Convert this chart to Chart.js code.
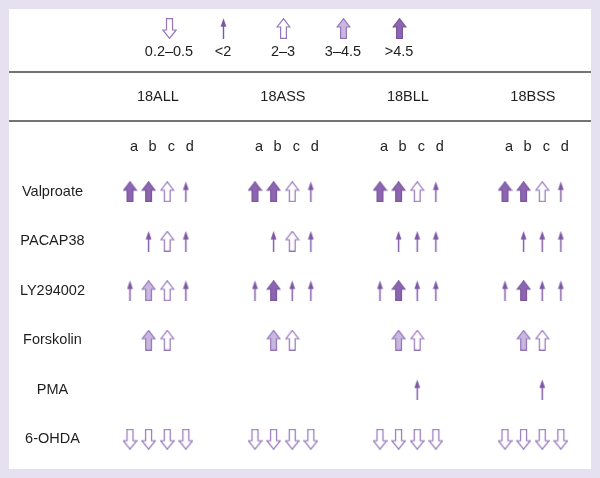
<!DOCTYPE html>
<html>
<head>
<meta charset="utf-8">
<script src="https://cdn.jsdelivr.net/npm/chart.js@4.4.1/dist/chart.umd.min.js"></script>
<style>
  html, body { margin: 0; padding: 0; background: #e6e1f1; }
  canvas { display: block; }
</style>
</head>
<body>
<canvas id="myChart" width="600" height="478"></canvas>
<script>
const groups = ['18ALL', '18ASS', '18BLL', '18BSS'];
const subs = ['a', 'b', 'c', 'd'];
const treatments = ['Valproate', 'PACAP38', 'LY294002', 'Forskolin', 'PMA', '6-OHDA'];
const levels = ['0.2–0.5', '<2', '2–3', '3–4.5', '>4.5'];

// level index (into levels) for a b c d of each group, null = no arrow
const valproate = [4, 4, 2, 1,  4, 4, 2, 1,  4, 4, 2, 1,  4, 4, 2, 1];
const pacap38   = [null, 1, 2, 1,  null, 1, 2, 1,  null, 1, 1, 1,  null, 1, 1, 1];
const ly294002  = [1, 3, 2, 1,  1, 4, 1, 1,  1, 4, 1, 1,  1, 4, 1, 1];
const forskolin = [null, 3, 2, null,  null, 3, 2, null,  null, 3, 2, null,  null, 3, 2, null];
const pma       = [null, null, null, null,  null, null, null, null,  null, null, 1, null,  null, null, 1, null];
const ohda      = [0, 0, 0, 0,  0, 0, 0, 0,  0, 0, 0, 0,  0, 0, 0, 0];
const rows = [valproate, pacap38, ly294002, forskolin, pma, ohda];

const subStep = 0.149;
const legendX = [169, 223, 283, 343, 399];
const font = '14.5px "Liberation Sans", Arial, sans-serif';
const purple = '#7d57a3';

// arrow glyphs used as point styles
function arrowCanvas(kind) {
  const c = document.createElement('canvas');
  const g = c.getContext('2d');
  if (kind === 1) {
    c.width = 7; c.height = 21;
    g.fillStyle = purple;
    g.beginPath();
    g.moveTo(3.5, 0.3); g.lineTo(6.4, 8.8); g.lineTo(0.6, 8.8); g.closePath();
    g.fill();
    g.fillRect(2.8, 8, 1.4, 13);
    return c;
  }
  c.width = 15; c.height = 21;
  g.beginPath();
  if (kind === 0) {
    g.moveTo(7.5, 20.3); g.lineTo(14.2, 12); g.lineTo(10.5, 12); g.lineTo(10.5, 0.7);
    g.lineTo(4.5, 0.7); g.lineTo(4.5, 12); g.lineTo(0.8, 12);
  } else {
    g.moveTo(7.5, 0.7); g.lineTo(13.9, 9); g.lineTo(10.4, 9); g.lineTo(10.4, 20.3);
    g.lineTo(4.6, 20.3); g.lineTo(4.6, 9); g.lineTo(1.1, 9);
  }
  g.closePath();
  g.fillStyle = kind === 4 ? '#8c66b0' : kind === 3 ? '#c8b7df' : '#ffffff';
  g.fill();
  g.lineWidth = 1.2;
  g.strokeStyle = kind === 4 ? '#7b55a0' : '#9474bb';
  g.stroke();
  return c;
}
const arrows = levels.map((l, i) => arrowCanvas(i));

const datasets = levels.map((lab, li) => {
  const pts = [];
  rows.forEach((row, ri) => {
    row.forEach((v, k) => {
      if (v === li) {
        pts.push({ x: Math.floor(k / 4) + (k % 4) * subStep, y: treatments[ri] });
      }
    });
  });
  return {
    label: lab,
    data: pts,
    pointStyle: arrows[li],
    pointRadius: 10,
    pointHoverRadius: 10
  };
});

const tableDecor = {
  id: 'tableDecor',
  beforeDraw(chart) {
    const ctx = chart.ctx;
    ctx.save();
    ctx.fillStyle = '#e6e1f1';
    ctx.fillRect(0, 0, chart.width, chart.height);
    ctx.fillStyle = '#ffffff';
    ctx.fillRect(9, 9, 582, 460);
    ctx.restore();
  },
  afterDraw(chart) {
    const ctx = chart.ctx, xs = chart.scales.x;
    ctx.save();
    ctx.font = font;
    ctx.fillStyle = '#1e1e1e';
    ctx.textAlign = 'center';
    ctx.textBaseline = 'middle';
    levels.forEach((lab, i) => {
      const img = arrows[i];
      ctx.drawImage(img, Math.round(legendX[i] - img.width / 2), Math.round(28 - img.height / 2));
      ctx.fillText(lab, legendX[i], 52);
    });
    //rules under legend and under group names
    ctx.strokeStyle = '#454545';
    ctx.lineWidth = 1.5;
    [72, 121].forEach(y => {
      ctx.beginPath();
      ctx.moveTo(9, y);
      ctx.lineTo(591, y);
      ctx.stroke();
    });
    groups.forEach((g, gi) => {
      ctx.fillText(g, xs.getPixelForValue(gi + 1.5 * subStep), 97);
      subs.forEach((s, si) => {
        ctx.fillText(s, xs.getPixelForValue(gi + si * subStep) + 4, 147);
      });
    });
    ctx.restore();
  }
};

new Chart(document.getElementById('myChart'), {
  type: 'scatter',
  data: { datasets: datasets },
  options: {
    responsive: false,
    animation: false,
    layout: { padding: { left: 9, top: 167, bottom: 14, right: 11 } },
    plugins: {
      legend: { display: false },
      tooltip: { enabled: false }
    },
    scales: {
      x: {
        type: 'linear',
        min: -0.28,
        max: 3.672,
        display: false
      },
      y: {
        type: 'category',
        labels: treatments,
        offset: true,
        grid: { display: false },
        border: { display: false },
        ticks: {
          color: '#1e1e1e',
          font: { family: '"Liberation Sans", Arial, sans-serif', size: 14.5 },
          crossAlign: 'center',
          padding: 2
        },
        afterFit(scale) { scale.width = 86; }
      }
    }
  },
  plugins: [tableDecor]
});
</script>
</body>
</html>
